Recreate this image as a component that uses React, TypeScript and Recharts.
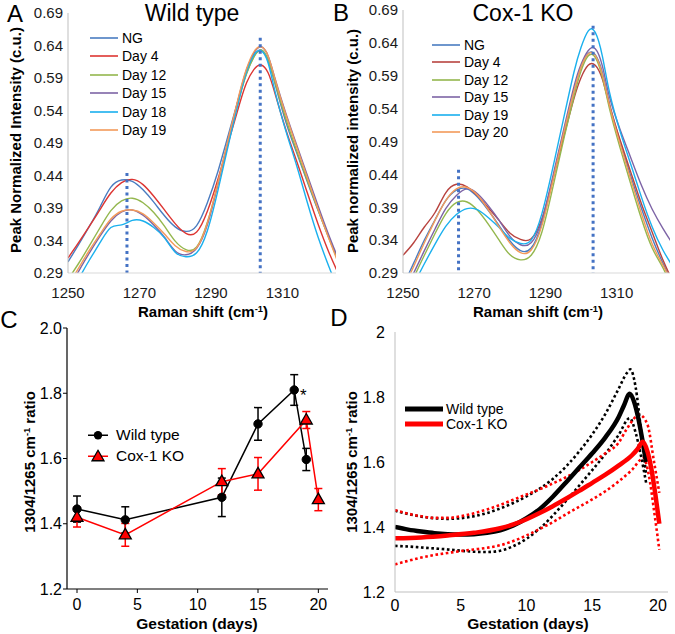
import React from 'react';
import { LineChart, Line, XAxis, YAxis, ReferenceLine, ErrorBar } from 'recharts';

const FONT = '"Liberation Sans", Arial, Helvetica, sans-serif';

// ---------- Panels A & B: Raman spectra ----------
const specX = [1250, 1253, 1256, 1259, 1262, 1265, 1268, 1271, 1274, 1277, 1280, 1283, 1286, 1289, 1292, 1295, 1298, 1300, 1302, 1304, 1306, 1308, 1311, 1314, 1317, 1320, 1323, 1326];
const specTicksX = [1250, 1270, 1290, 1310];
const specTicksY = [0.29, 0.34, 0.39, 0.44, 0.49, 0.54, 0.59, 0.64, 0.69];

// Wild type
const aNG = [0.307, 0.334, 0.362, 0.392, 0.422, 0.433, 0.431, 0.418, 0.399, 0.378, 0.361, 0.354, 0.363, 0.398, 0.447, 0.505, 0.563, 0.598, 0.623, 0.633, 0.617, 0.58, 0.522, 0.475, 0.43, 0.386, 0.345, 0.305];
const aDay4 = [0.313, 0.337, 0.362, 0.388, 0.413, 0.429, 0.434, 0.426, 0.408, 0.387, 0.366, 0.351, 0.353, 0.385, 0.435, 0.493, 0.55, 0.583, 0.603, 0.61, 0.598, 0.565, 0.51, 0.462, 0.413, 0.365, 0.322, 0.285];
const aDay12 = [0.28, 0.305, 0.332, 0.36, 0.386, 0.401, 0.405, 0.398, 0.383, 0.362, 0.339, 0.326, 0.33, 0.368, 0.428, 0.495, 0.56, 0.597, 0.622, 0.633, 0.618, 0.582, 0.527, 0.478, 0.432, 0.387, 0.344, 0.303];
const aDay15 = [0.264, 0.293, 0.321, 0.347, 0.37, 0.384, 0.387, 0.379, 0.364, 0.345, 0.324, 0.318, 0.328, 0.364, 0.428, 0.498, 0.565, 0.603, 0.628, 0.638, 0.624, 0.588, 0.535, 0.487, 0.44, 0.393, 0.348, 0.307];
const aDay18 = [0.25, 0.281, 0.31, 0.337, 0.36, 0.364, 0.371, 0.37, 0.36, 0.344, 0.322, 0.315, 0.321, 0.355, 0.418, 0.49, 0.56, 0.6, 0.625, 0.632, 0.613, 0.568, 0.508, 0.455, 0.398, 0.345, 0.3, 0.258];
const aDay19 = [0.27, 0.298, 0.325, 0.35, 0.373, 0.385, 0.387, 0.381, 0.367, 0.35, 0.332, 0.323, 0.329, 0.367, 0.43, 0.5, 0.567, 0.605, 0.63, 0.638, 0.624, 0.587, 0.533, 0.484, 0.436, 0.388, 0.343, 0.3];

// Cox-1 KO
const bNG = [0.27, 0.305, 0.34, 0.371, 0.4, 0.416, 0.418, 0.405, 0.385, 0.362, 0.339, 0.324, 0.328, 0.365, 0.43, 0.5, 0.566, 0.603, 0.624, 0.622, 0.595, 0.548, 0.49, 0.437, 0.388, 0.343, 0.305, 0.27];
const bDay4 = [0.317, 0.336, 0.36, 0.382, 0.412, 0.425, 0.421, 0.407, 0.389, 0.37, 0.351, 0.341, 0.342, 0.372, 0.43, 0.494, 0.555, 0.587, 0.606, 0.606, 0.585, 0.545, 0.492, 0.443, 0.395, 0.352, 0.31, 0.275];
const bDay12 = [0.25, 0.283, 0.317, 0.35, 0.38, 0.397, 0.398, 0.385, 0.364, 0.34, 0.318, 0.31, 0.317, 0.352, 0.418, 0.49, 0.558, 0.597, 0.62, 0.618, 0.588, 0.54, 0.48, 0.425, 0.372, 0.328, 0.298, 0.262];
const bDay15 = [0.258, 0.29, 0.324, 0.357, 0.388, 0.408, 0.418, 0.41, 0.392, 0.37, 0.346, 0.333, 0.336, 0.37, 0.435, 0.505, 0.573, 0.607, 0.628, 0.631, 0.605, 0.558, 0.508, 0.465, 0.423, 0.387, 0.358, 0.332];
const bDay19 = [0.243, 0.273, 0.304, 0.334, 0.361, 0.379, 0.388, 0.386, 0.374, 0.359, 0.343, 0.335, 0.34, 0.38, 0.448, 0.522, 0.595, 0.633, 0.658, 0.656, 0.62, 0.565, 0.505, 0.455, 0.405, 0.36, 0.325, 0.298];
const bDay20 = [0.265, 0.3, 0.336, 0.37, 0.4, 0.418, 0.42, 0.408, 0.386, 0.36, 0.336, 0.321, 0.325, 0.362, 0.428, 0.5, 0.566, 0.603, 0.623, 0.621, 0.592, 0.545, 0.486, 0.432, 0.38, 0.334, 0.302, 0.27];

const aNames = ['NG', 'Day 4', 'Day 12', 'Day 15', 'Day 18', 'Day 19'];
const bNames = ['NG', 'Day 4', 'Day 12', 'Day 15', 'Day 19', 'Day 20'];
const aColors = ['#4A7CC0', '#DD3532', '#94B74E', '#7D64A6', '#1AB0EE', '#F39A5A'];
const bColors = ['#4A7CC0', '#B8433F', '#94B74E', '#7D64A6', '#1AB0EE', '#F39A5A'];
const aSeries = [aNG, aDay4, aDay12, aDay15, aDay18, aDay19];
const bSeries = [bNG, bDay4, bDay12, bDay15, bDay19, bDay20];

// positions of the dotted marker lines [x, top value]
const aMarks = [[1266.5, 0.444], [1303.8, 0.652]];
const bMarks = [[1265.6, 0.447], [1303.4, 0.666]];

const buildTable = (series: number[][]) =>
  specX.map((x, i) => {
    const row: any = { x };
    series.forEach((s, k) => { row['s' + k] = s[i]; });
    return row;
  });

// ---------- Panel C ----------
const cWtDays = [0, 4, 12, 15, 18, 19];
const cWtMean = [1.445, 1.412, 1.481, 1.706, 1.81, 1.597];
const cWtErr = [0.04, 0.04, 0.059, 0.05, 0.047, 0.034];
const cKoDays = [0, 4, 12, 15, 19, 20];
const cKoMean = [1.42, 1.366, 1.529, 1.553, 1.718, 1.474];
const cKoErr = [0.03, 0.035, 0.04, 0.05, 0.026, 0.034];
const cTicksX = [0, 5, 10, 15, 20];
const cTicksY = [1.2, 1.4, 1.6, 1.8, 2.0];

// ---------- Panel D ----------
const dWtX = [0, 1, 2, 3, 4, 5, 6, 7, 8, 9, 10, 11, 12, 13, 14, 15, 16, 17, 17.4, 17.85, 18.2, 18.5, 18.8, 19.1];
const dWtY = [1.4, 1.392, 1.386, 1.381, 1.378, 1.377, 1.378, 1.382, 1.39, 1.405, 1.427, 1.455, 1.493, 1.537, 1.582, 1.627, 1.676, 1.738, 1.773, 1.81, 1.783, 1.735, 1.67, 1.6];
const dKoX = [0, 2, 4, 6, 8, 9, 10, 11, 12, 13, 14, 15, 16, 17, 18, 18.45, 18.85, 19.2, 19.5, 19.8, 20.1];
const dKoY = [1.365, 1.368, 1.374, 1.382, 1.396, 1.408, 1.424, 1.443, 1.464, 1.487, 1.511, 1.536, 1.561, 1.589, 1.62, 1.64, 1.662, 1.632, 1.578, 1.5, 1.41];
const dWtUpX = [0, 1, 2, 3, 4, 5, 6, 7, 8, 9, 10, 11, 12, 13, 14, 15, 16, 17, 17.6, 17.9, 18.3, 18.7, 19.1];
const dWtUpY = [1.45, 1.44, 1.432, 1.427, 1.425, 1.427, 1.433, 1.443, 1.457, 1.474, 1.494, 1.518, 1.548, 1.586, 1.632, 1.685, 1.748, 1.825, 1.872, 1.885, 1.83, 1.7, 1.56];
const dWtLoX = [0, 1, 2, 3, 4, 5, 6, 7, 8, 9, 10, 11, 12, 13, 14, 15, 16, 17, 17.85, 18.3, 18.7, 19.1];
const dWtLoY = [1.342, 1.34, 1.337, 1.334, 1.331, 1.327, 1.324, 1.323, 1.327, 1.341, 1.364, 1.395, 1.435, 1.48, 1.527, 1.575, 1.625, 1.683, 1.735, 1.69, 1.62, 1.535];
const dKoUpX = [0, 1, 2, 3, 4, 5, 6, 7, 8, 9, 10, 11, 12, 13, 14, 15, 16, 17, 17.6, 18.6, 19.2, 19.7, 20.1];
const dKoUpY = [1.452, 1.441, 1.433, 1.428, 1.428, 1.433, 1.442, 1.454, 1.468, 1.484, 1.5, 1.516, 1.534, 1.553, 1.575, 1.6, 1.627, 1.659, 1.7, 1.745, 1.715, 1.6, 1.505];
const dKoLoX = [0, 1, 2, 3, 4, 5, 6, 7, 8, 9, 10, 11, 12, 13, 14, 15, 16, 17, 18, 18.9, 19.3, 19.7, 20.1];
const dKoLoY = [1.285, 1.296, 1.306, 1.314, 1.32, 1.326, 1.331, 1.336, 1.344, 1.357, 1.374, 1.394, 1.415, 1.439, 1.462, 1.485, 1.51, 1.54, 1.575, 1.612, 1.56, 1.45, 1.33];
const dTicksY = [1.2, 1.4, 1.6, 1.8, 2];

const pts = (xs: number[], ys: number[]) => xs.map((x, i) => ({ x, y: ys[i] }));
const ptsErr = (xs: number[], ys: number[], es: number[]) => xs.map((x, i) => ({ x, y: ys[i], e: es[i] }));

// ---------- helpers ----------
type TxtProps = { x: number; y: number; size: number; bold?: boolean; anchor?: 'start' | 'middle' | 'end'; rotate?: boolean; children: React.ReactNode; color?: string };
const Txt = ({ x, y, size, bold, anchor = 'middle', rotate, children, color = '#000' }: TxtProps) => {
  const tx = anchor === 'middle' ? '-50%' : anchor === 'start' ? '0' : '-100%';
  return (
    <div
      style={{
        position: 'absolute', left: x, top: y,
        transform: `translate(${tx}, -50%)${rotate ? ' rotate(-90deg)' : ''}`,
        fontSize: size, fontWeight: bold ? 700 : 400, fontFamily: FONT,
        whiteSpace: 'nowrap', lineHeight: 1, color,
      }}
    >
      {children}
    </div>
  );
};

const Sup = ({ children }: { children: React.ReactNode }) => (
  <span style={{ fontSize: '0.62em', position: 'relative', top: '-0.55em' }}>{children}</span>
);

const tickStyle = (size: number, fill = '#1a1a1a') => ({ fontSize: size, fill, fontFamily: FONT });

function SpecLegend({ x, y, step, names, colors }: { x: number; y: number; step: number; names: string[]; colors: string[] }) {
  return (
    <>
      {names.map((n, i) => (
        <div key={n} style={{ position: 'absolute', left: x, top: y + i * step, transform: 'translateY(-50%)', display: 'flex', alignItems: 'center', fontSize: 14, fontFamily: FONT, lineHeight: 1, whiteSpace: 'nowrap', color: '#000' }}>
          <svg width={28} height={4} style={{ marginRight: 4, display: 'block' }}>
            <line x1={0} y1={2} x2={28} y2={2} stroke={colors[i]} strokeWidth={1.6} />
          </svg>
          <span>{n}</span>
        </div>
      ))}
    </>
  );
}

function SpectraChart({ series, colors, marks, marginTop, marginRight }: { series: number[][]; colors: string[]; marks: number[][]; marginTop: number; marginRight: number }) {
  const table = buildTable(series);
  return (
    <LineChart width={340} height={304} data={table} margin={{ top: marginTop, right: marginRight, bottom: 0, left: 0 }}>
      <XAxis
        type="number" dataKey="x" domain={[1250, 1325]} ticks={specTicksX} allowDataOverflow interval={0}
        axisLine={{ stroke: '#D9D9D9' }} tickLine={false} tickSize={0} tickMargin={14} height={31}
        tick={tickStyle(15)}
      />
      <YAxis
        type="number" domain={[0.29, 0.69]} ticks={specTicksY} allowDataOverflow interval={0}
        axisLine={{ stroke: '#BFBFBF' }} tickLine={false} tickSize={0} tickMargin={5} width={68}
        tickFormatter={(v: number) => v.toFixed(2)} tick={tickStyle(15)}
      />
      {series.map((_, k) => (
        <Line key={k} dataKey={'s' + k} type="natural" stroke={colors[k]} strokeWidth={1.4} dot={false} activeDot={false} isAnimationActive={false} />
      ))}
      {marks.map((m, i) => (
        <ReferenceLine key={i} segment={[{ x: m[0], y: m[1] }, { x: m[0], y: 0.29 }]} stroke="#4472C4" strokeWidth={3} strokeDasharray="3 3.5" />
      ))}
    </LineChart>
  );
}

const CircleDot = (props: any) => {
  const { cx, cy, index } = props;
  if (cx == null || cy == null) return <g key={index} />;
  return <circle key={index} cx={cx} cy={cy} r={4.2} fill="#000" stroke="#000" />;
};
const TriDot = (props: any) => {
  const { cx, cy, index } = props;
  if (cx == null || cy == null) return <g key={index} />;
  return (
    <polygon key={index} points={`${cx},${cy - 6.5} ${cx - 6},${cy + 4} ${cx + 6},${cy + 4}`} fill="#FF0000" stroke="#000" strokeWidth={1.3} strokeLinejoin="miter" />
  );
};

const legRow = (left: number, top: number, size: number): React.CSSProperties => ({
  position: 'absolute', left, top, transform: 'translateY(-50%)', display: 'flex', alignItems: 'center',
  fontSize: size, fontFamily: FONT, lineHeight: 1, whiteSpace: 'nowrap', color: '#000',
});

export default function App() {
  return (
    <div style={{ position: 'absolute', left: 0, top: 0, width: 675, height: 634, background: '#fff', overflow: 'hidden' }}>
      {/* Panel A */}
      <div style={{ position: 'absolute', left: 0, top: 0 }}>
        <SpectraChart series={aSeries} colors={aColors} marks={aMarks} marginTop={13} marginRight={4} />
      </div>
      {/* Panel B */}
      <div style={{ position: 'absolute', left: 335, top: 0 }}>
        <SpectraChart series={bSeries} colors={bColors} marks={bMarks} marginTop={10} marginRight={5} />
      </div>
      {/* Panel C */}
      <div style={{ position: 'absolute', left: 0, top: 305 }}>
        <LineChart width={340} height={329} margin={{ top: 23, right: 12, bottom: 0, left: 0 }}>
          <XAxis
            type="number" dataKey="x" domain={[-0.83, 20.8]} ticks={cTicksX} allowDataOverflow interval={0}
            axisLine={{ stroke: '#000', strokeWidth: 1.2 }} tickLine={{ stroke: '#000' }} tickSize={4} tickMargin={6} height={45}
            tick={tickStyle(16, '#000')}
          />
          <YAxis
            type="number" domain={[1.2, 2.0]} ticks={cTicksY} allowDataOverflow interval={0}
            axisLine={{ stroke: '#000', strokeWidth: 1.2 }} tickLine={{ stroke: '#000' }} tickSize={4} tickMargin={1} width={67}
            tickFormatter={(v: number) => v.toFixed(1)} tick={tickStyle(16, '#000')}
          />
          <Line data={ptsErr(cWtDays, cWtMean, cWtErr)} dataKey="y" type="linear" stroke="#000" strokeWidth={1.5} dot={CircleDot} activeDot={false} isAnimationActive={false}>
            <ErrorBar dataKey="e" width={4} stroke="#000" strokeWidth={1.5} direction="y" />
          </Line>
          <Line data={ptsErr(cKoDays, cKoMean, cKoErr)} dataKey="y" type="linear" stroke="#FF0000" strokeWidth={1.5} dot={TriDot} activeDot={false} isAnimationActive={false}>
            <ErrorBar dataKey="e" width={4} stroke="#FF0000" strokeWidth={1.5} direction="y" />
          </Line>
        </LineChart>
      </div>
      {/* Panel D */}
      <div style={{ position: 'absolute', left: 335, top: 305 }}>
        <LineChart width={340} height={329} margin={{ top: 27, right: 7, bottom: 0, left: 0 }}>
          <XAxis
            type="number" dataKey="x" domain={[0, 20.76]} ticks={cTicksX} allowDataOverflow interval={0}
            axisLine={{ stroke: '#BFBFBF' }} tickLine={false} tickSize={0} tickMargin={8} height={42}
            tick={tickStyle(16, '#000')}
          />
          <YAxis
            type="number" domain={[1.2, 2]} ticks={dTicksY} allowDataOverflow interval={0}
            axisLine={{ stroke: '#BFBFBF' }} tickLine={false} tickSize={0} tickMargin={10} width={60}
            tickFormatter={(v: number) => String(v)} tick={tickStyle(16, '#000')}
          />
          <Line data={pts(dWtUpX, dWtUpY)} dataKey="y" type="monotone" stroke="#000" strokeWidth={2.6} strokeDasharray="2.6 2.6" dot={false} activeDot={false} isAnimationActive={false} />
          <Line data={pts(dWtLoX, dWtLoY)} dataKey="y" type="monotone" stroke="#000" strokeWidth={2.6} strokeDasharray="2.6 2.6" dot={false} activeDot={false} isAnimationActive={false} />
          <Line data={pts(dKoUpX, dKoUpY)} dataKey="y" type="monotone" stroke="#FF0000" strokeWidth={2.6} strokeDasharray="2.6 2.6" dot={false} activeDot={false} isAnimationActive={false} />
          <Line data={pts(dKoLoX, dKoLoY)} dataKey="y" type="monotone" stroke="#FF0000" strokeWidth={2.6} strokeDasharray="2.6 2.6" dot={false} activeDot={false} isAnimationActive={false} />
          <Line data={pts(dWtX, dWtY)} dataKey="y" type="monotone" stroke="#000" strokeWidth={4.5} dot={false} activeDot={false} isAnimationActive={false} />
          <Line data={pts(dKoX, dKoY)} dataKey="y" type="monotone" stroke="#FF0000" strokeWidth={4.5} dot={false} activeDot={false} isAnimationActive={false} />
        </LineChart>
      </div>

      {/* Titles and panel letters */}
      <Txt x={15} y={14} size={24}>A</Txt>
      <Txt x={341} y={13} size={24}>B</Txt>
      <Txt x={9} y={320} size={24}>C</Txt>
      <Txt x={339} y={318} size={24}>D</Txt>
      <Txt x={192} y={13} size={23}>Wild type</Txt>
      <Txt x={523} y={13} size={23}>Cox-1 KO</Txt>

      {/* Axis titles */}
      <Txt x={15} y={140} size={15} bold rotate>Peak Normalized Intensity (c.u.)</Txt>
      <Txt x={352} y={141} size={15} bold rotate>Peak normalized intensity (c.u.)</Txt>
      <Txt x={203} y={312} size={15} bold>Raman shift (cm<Sup>-1</Sup>)</Txt>
      <Txt x={538} y={312} size={15} bold>Raman shift (cm<Sup>-1</Sup>)</Txt>
      <Txt x={30} y={462} size={15} bold rotate>1304/1265 cm<Sup>-1</Sup> ratio</Txt>
      <Txt x={352} y={462} size={15} bold rotate>1304/1265 cm<Sup>-1</Sup> ratio</Txt>
      <Txt x={197} y={624} size={15.5} bold>Gestation (days)</Txt>
      <Txt x={528} y={624} size={15.5} bold>Gestation (days)</Txt>

      {/* Legends A, B */}
      <SpecLegend x={90} y={38} step={18.4} names={aNames} colors={aColors} />
      <SpecLegend x={432} y={45} step={17.4} names={bNames} colors={bColors} />

      {/* Legend C */}
      <div style={legRow(86, 435, 15.5)}>
        <svg width={24} height={12} style={{ display: 'block', marginRight: 6 }}>
          <line x1={2} y1={6} x2={22} y2={6} stroke="#000" strokeWidth={1.5} />
          <circle cx={12} cy={6} r={4.2} fill="#000" />
        </svg>
        <span>Wild type</span>
      </div>
      <div style={legRow(86, 456, 15.5)}>
        <svg width={24} height={14} style={{ display: 'block', marginRight: 6 }}>
          <line x1={2} y1={7} x2={22} y2={7} stroke="#FF0000" strokeWidth={1.5} />
          <polygon points="12,1 6,11.5 18,11.5" fill="#FF0000" stroke="#000" strokeWidth={1.3} />
        </svg>
        <span>Cox-1 KO</span>
      </div>
      <div style={{ position: 'absolute', left: 300, top: 387, fontSize: 17, fontFamily: FONT, lineHeight: 1 }}>*</div>

      {/* Legend D */}
      <div style={legRow(405, 409, 14)}>
        <svg width={38} height={6} style={{ display: 'block', marginRight: 3 }}>
          <line x1={0} y1={3} x2={38} y2={3} stroke="#000" strokeWidth={5} strokeLinecap="round" />
        </svg>
        <span>Wild type</span>
      </div>
      <div style={legRow(405, 424, 14)}>
        <svg width={38} height={6} style={{ display: 'block', marginRight: 3 }}>
          <line x1={0} y1={3} x2={38} y2={3} stroke="#FF0000" strokeWidth={5} strokeLinecap="round" />
        </svg>
        <span>Cox-1 KO</span>
      </div>
    </div>
  );
}
